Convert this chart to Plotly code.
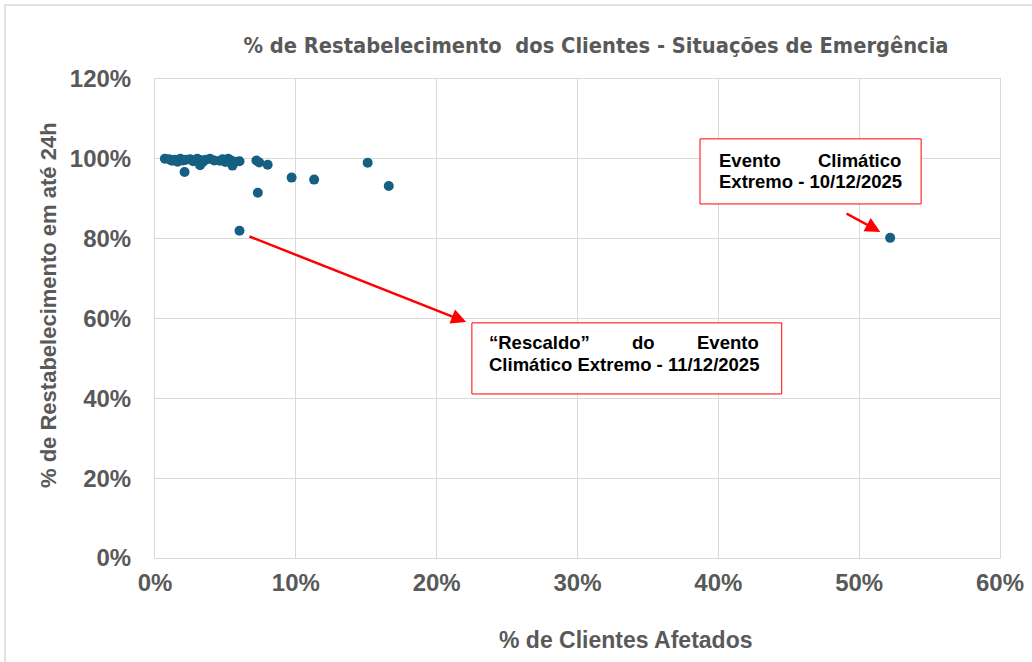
import plotly.graph_objects as go

# % de Clientes Afetados (fraction)
x_afetados = [0.007, 0.010, 0.012, 0.014, 0.016, 0.018, 0.020, 0.021, 0.022, 0.025,
              0.027, 0.030, 0.032, 0.032, 0.034, 0.036, 0.039, 0.042, 0.046, 0.048,
              0.050, 0.052, 0.054, 0.055, 0.057, 0.060, 0.072, 0.074, 0.080,
              0.060, 0.073, 0.097, 0.113, 0.151, 0.166, 0.522]
# % de Restabelecimento em até 24h (fraction)
y_restab = [1.000, 0.999, 0.995, 0.998, 0.993, 1.000, 0.996, 0.967, 0.998, 0.999,
            0.994, 1.000, 0.997, 0.984, 0.992, 0.998, 1.000, 0.996, 0.995, 0.999,
            0.992, 1.000, 0.996, 0.983, 0.993, 0.994, 0.996, 0.991, 0.985,
            0.820, 0.915, 0.953, 0.948, 0.990, 0.932, 0.802]

title_text = "% de Restabelecimento  dos Clientes - Situações de Emergência"
x_title = "% de Clientes Afetados"
y_title = "% de Restabelecimento em até 24h"

GRAY = "#595959"
GRID = "#D9D9D9"
TEAL = "#156082"
RED = "#FF0000"
FONT = "Liberation Sans, Arial, sans-serif"

L, R, T, B = 155, 32, 79, 104
W, H = 1032, 662
pw, ph = W - L - R, H - T - B

def px_x(s):  # screen x -> paper
    return (s - L) / pw

def px_y(s):  # screen y -> paper
    return (H - B - s) / ph

fig = go.Figure()
fig.add_trace(go.Scatter(
    x=x_afetados, y=y_restab, mode="markers",
    marker=dict(color=TEAL, size=10, line=dict(width=0)),
    showlegend=False, hoverinfo="x+y"))

axis_common = dict(
    showgrid=True, gridcolor=GRID, gridwidth=1, automargin=False,
    zeroline=False, showline=True, linecolor=GRID, linewidth=1, mirror=True,
    ticks="", tickformat=".0%", tickprefix="<b>", ticksuffix="</b>",
    tickfont=dict(family=FONT, size=24, color=GRAY),
)

fig.update_xaxes(range=[0, 0.6], dtick=0.1, ticklabelstandoff=3, **axis_common)
fig.update_yaxes(range=[0, 1.2], dtick=0.2, ticklabelstandoff=18, **axis_common)

# axis titles (positioned like the original)
fig.add_annotation(x=px_x(625), y=px_y(640), xref="paper", yref="paper",
                   text="<b>" + x_title + "</b>", showarrow=False,
                   xanchor="center", yanchor="middle",
                   font=dict(family=FONT, size=23, color=GRAY))
fig.add_annotation(x=px_x(48), y=px_y(305), xref="paper", yref="paper",
                   text="<b>" + y_title + "</b>", showarrow=False, textangle=-90,
                   xanchor="center", yanchor="middle",
                   font=dict(family=FONT, size=22, color=GRAY))

# Annotation boxes (data coordinates)
fig.add_shape(type="rect", xref="x", yref="y", x0=0.387, x1=0.544, y0=0.887, y1=1.050,
              line=dict(color=RED, width=1), fillcolor="white", layer="above")
fig.add_shape(type="rect", xref="x", yref="y", x0=0.225, x1=0.445, y0=0.411, y1=0.589,
              line=dict(color=RED, width=1), fillcolor="white", layer="above")

afont = dict(family=FONT, size=18.5, color="black")

def txt(x, y, s, anchor):
    fig.add_annotation(x=x, y=y, xref="x", yref="y", text="<b>" + s + "</b>",
                       showarrow=False, xanchor=anchor, yanchor="middle", font=afont)

# box 1
txt(0.399, 0.997, "Evento", "left")
txt(0.531, 0.997, "Climático", "right")
txt(0.399, 0.942, "Extremo - 10/12/2025", "left")
# box 2
txt(0.236, 0.539, "“Rescaldo”", "left")
txt(0.347, 0.539, "do", "center")
txt(0.430, 0.539, "Evento", "right")
txt(0.236, 0.484, "Climático Extremo - 11/12/2025", "left")

# arrows
fig.add_annotation(x=0.221, y=0.591, ax=0.066, ay=0.807, xref="x", yref="y",
                   axref="x", ayref="y", text="", showarrow=True,
                   arrowhead=2, arrowsize=1.2, arrowwidth=2.5, arrowcolor=RED)
fig.add_annotation(x=0.515, y=0.817, ax=0.490, ay=0.865, xref="x", yref="y",
                   axref="x", ayref="y", text="", showarrow=True,
                   arrowhead=2, arrowsize=1.2, arrowwidth=2.5, arrowcolor=RED)

# outer chart border (top/left visible)
fig.add_shape(type="rect", xref="paper", yref="paper",
              x0=px_x(5), x1=px_x(W + 20), y0=px_y(H + 20), y1=px_y(5),
              line=dict(color=GRID, width=1.5), layer="below")

fig.update_layout(
    width=W, height=H,
    margin=dict(l=L, r=R, t=T, b=B),
    paper_bgcolor="white", plot_bgcolor="white",
    title=dict(text=title_text, x=596 / W, xanchor="center", y=1 - 45 / H, yanchor="middle",
               font=dict(family="Liberation Sans Narrow, DejaVu Sans Condensed, sans-serif",
                         size=21.7, color=GRAY, weight="bold")),
)

fig.write_html("out.html", config={"displayModeBar": False},
               post_script="document.body.style.margin='0';document.body.style.overflow='hidden';")
